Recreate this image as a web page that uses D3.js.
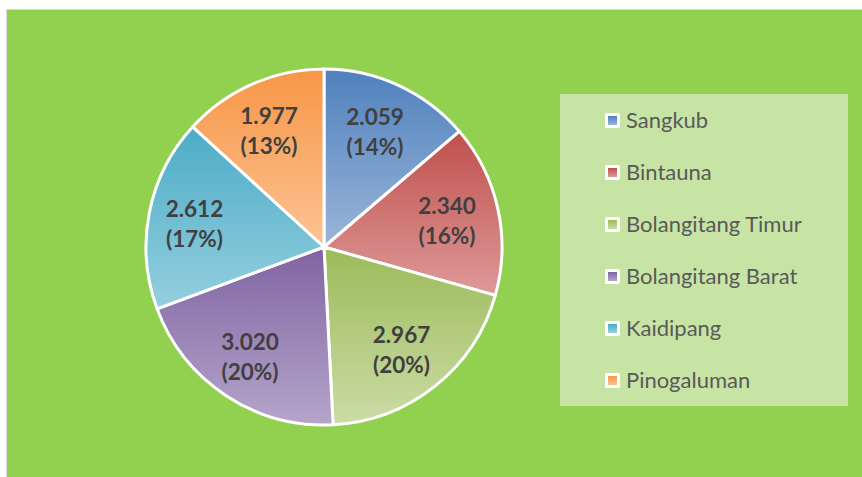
<!DOCTYPE html>
<html>
<head>
<meta charset="utf-8">
<script src="https://cdn.jsdelivr.net/npm/d3@7"></script>
<style>
  body { margin: 0; background: #fff; }
  svg { display: block; }
</style>
</head>
<body>
<div id="wrapper"></div>
<script>
const categories = ["Sangkub", "Bintauna", "Bolangitang Timur", "Bolangitang Barat", "Kaidipang", "Pinogaluman"];
const values = [2059, 2340, 2967, 3020, 2612, 1977];
const topColors = ["#4f81bd", "#c0504d", "#9bbb59", "#8064a2", "#4bacc6", "#f79646"];
const bottomColors = ["#9ab5d9", "#dd9a98", "#cbdca6", "#b5a5ca", "#95cfdf", "#fbc394"];

function drawPie() {
    const dimensions = {
        width: 862,
        height: 477,
        cx: 324,
        cy: 247,
        radius: 178,
        labelRadius: 129
    };

    const wrapper = d3.select("#wrapper")
        .append("svg")
        .attr("width", dimensions.width)
        .attr("height", dimensions.height);

    // chart area
    wrapper.append("rect")
        .attr("x", 6.5)
        .attr("y", 9.5)
        .attr("width", 860)
        .attr("height", 470)
        .attr("fill", "#92d050")
        .attr("stroke", "#d9d9d9")
        .attr("stroke-width", 1);

    const defs = wrapper.append("defs");
    categories.forEach((c, i) => {
        const g = defs.append("linearGradient")
            .attr("id", "grad" + i)
            .attr("x1", 0).attr("y1", 0)
            .attr("x2", 0).attr("y2", 1);
        g.append("stop").attr("offset", "0%").attr("stop-color", topColors[i]);
        g.append("stop").attr("offset", "100%").attr("stop-color", bottomColors[i]);
    });

    const dataset = categories.map((c, i) => ({ name: c, value: values[i], i: i }));
    const total = d3.sum(values);

    const pie = d3.pie().value(d => d.value).sort(null);
    const arcs = pie(dataset);

    const arcGen = d3.arc().innerRadius(0).outerRadius(dimensions.radius);
    const labelArc = d3.arc().innerRadius(dimensions.labelRadius).outerRadius(dimensions.labelRadius);

    const bounds = wrapper.append("g")
        .attr("transform", `translate(${dimensions.cx},${dimensions.cy})`);

    bounds.selectAll("path")
        .data(arcs)
        .join("path")
        .attr("d", arcGen)
        .attr("fill", d => `url(#grad${d.data.i})`)
        .attr("stroke", "#fff")
        .attr("stroke-width", 3)
        .attr("stroke-linejoin", "round");

    const fmt = d3.format(",");
    const labels = bounds.selectAll("text.label")
        .data(arcs)
        .join("text")
        .attr("class", "label")
        .attr("transform", d => `translate(${labelArc.centroid(d)})`)
        .attr("text-anchor", "middle")
        .style("font-family", "Lato, 'Open Sans', sans-serif")
        .style("font-weight", "bold")
        .style("font-size", "22.5px")
        .attr("fill", "#404040");
    labels.append("tspan")
        .attr("x", -3)
        .attr("y", -5)
        .text(d => fmt(d.data.value).replace(",", "."));
    labels.append("tspan")
        .attr("x", -3)
        .attr("y", 25)
        .text(d => `(${Math.round(d.data.value / total * 100)}%)`);

    // legend
    const legend = wrapper.append("g");
    legend.append("rect")
        .attr("x", 560)
        .attr("y", 94)
        .attr("width", 288)
        .attr("height", 312)
        .attr("fill", "#c8e4a5");

    const legendY = d3.scalePoint()
        .domain(categories)
        .range([120, 380]);

    const items = legend.selectAll("g.item")
        .data(dataset)
        .join("g")
        .attr("class", "item")
        .attr("transform", d => `translate(604,${legendY(d.name)})`);
    items.append("rect")
        .attr("x", 1)
        .attr("y", -7)
        .attr("width", 15)
        .attr("height", 15)
        .attr("rx", 1.5)
        .attr("fill", "#fff");
    items.append("rect")
        .attr("x", 4)
        .attr("y", -4)
        .attr("width", 9)
        .attr("height", 9)
        .attr("fill", d => `url(#grad${d.i})`);
    items.append("text")
        .attr("x", 22)
        .attr("y", 8)
        .style("font-family", "Lato, 'Open Sans', sans-serif")
        .style("font-size", "22px")
        .attr("fill", "#595959")
        .text(d => d.name);
}

drawPie();
</script>
</body>
</html>
